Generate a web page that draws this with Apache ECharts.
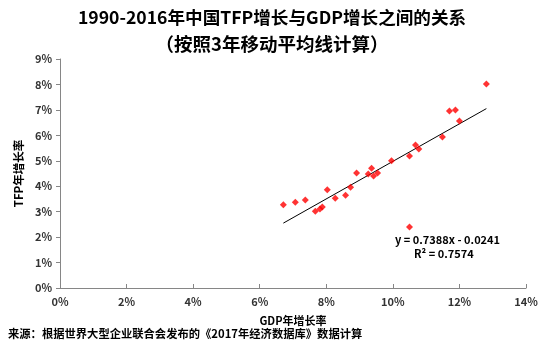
<!DOCTYPE html>
<html>
<head>
<meta charset="utf-8">
<script src="https://cdn.jsdelivr.net/npm/echarts@6/dist/echarts.min.js"></script>
<style>
html,body{margin:0;padding:0;background:#fff;}
#chart{width:544px;height:347px;}
</style>
</head>
<body>
<div id="chart"></div>
<script>
// GDP年增长率 (%) / TFP年增长率 (%), 3年移动平均
var gdpGrowth = [6.71, 7.07, 7.37, 7.67, 7.81, 7.88, 8.03, 8.27, 8.58, 8.73, 8.91, 9.26, 9.36,
	9.42, 9.54, 9.96, 10.50, 10.68, 10.78, 11.49, 11.70, 11.88, 12.00, 12.81, 10.50];
var tfpGrowth = [3.27, 3.37, 3.46, 3.02, 3.10, 3.18, 3.86, 3.53, 3.65, 3.96, 4.52, 4.48, 4.71,
	4.40, 4.52, 5.00, 5.19, 5.62, 5.46, 5.93, 6.96, 7.00, 6.56, 8.02, 2.40];
// 趋势线两端
var trendX = [6.71, 12.81];
var trendY = [2.55, 7.05];
var xTicks = [0, 14, 2];
var yTicks = [0, 9, 1];

var cjk = '"Noto Sans CJK SC", "Liberation Sans", sans-serif';
var points = [], trend = [];
for (var i = 0; i < gdpGrowth.length; i++) {
	points.push([gdpGrowth[i], tfpGrowth[i]]);
}
for (var i = 0; i < trendX.length; i++) {
	trend.push([trendX[i], trendY[i]]);
}

var chart = echarts.init(document.getElementById('chart'));
var option = {
	animation: false,
	title: [{
		text: '1990-2016年中国TFP增长与GDP增长之间的关系',
		left: 'center',
		top: 4,
		textStyle: {fontFamily: cjk, fontSize: 17.6, fontWeight: 'bold', color: '#000'}
	}, {
		text: '（按照3年移动平均线计算）',
		left: 'center',
		top: 30,
		textStyle: {fontFamily: cjk, fontSize: 18.5, fontWeight: 'bold', color: '#000'}
	}],
	grid: {left: 60, right: 18, top: 59, bottom: 59},
	xAxis: {
		type: 'value',
		min: xTicks[0], max: xTicks[1], interval: xTicks[2],
		name: 'GDP年增长率',
		nameLocation: 'middle',
		nameGap: 27,
		nameTextStyle: {fontFamily: cjk, fontSize: 11, fontWeight: 'bold', color: '#000'},
		axisLine: {lineStyle: {color: '#868686'}},
		axisTick: {inside: true, length: 4, lineStyle: {color: '#868686'}},
		axisLabel: {formatter: '{value}%', fontFamily: cjk, fontSize: 11, fontWeight: 'bold', color: '#333', margin: 8},
		splitLine: {show: false}
	},
	yAxis: {
		type: 'value',
		min: yTicks[0], max: yTicks[1], interval: yTicks[2],
		name: 'TFP年增长率',
		nameLocation: 'middle',
		nameGap: 30,
		nameTextStyle: {fontFamily: cjk, fontSize: 11.5, fontWeight: 'bold', color: '#000'},
		axisLine: {show: true, lineStyle: {color: '#868686'}},
		axisTick: {show: true, length: 4, lineStyle: {color: '#868686'}},
		axisLabel: {formatter: '{value}%', fontFamily: cjk, fontSize: 11, fontWeight: 'bold', color: '#333', margin: 8},
		splitLine: {show: false}
	},
	series: [{
		type: 'line',
		data: trend,
		symbol: 'none',
		lineStyle: {color: '#000', width: 1},
		silent: true,
		z: 1
	}, {
		type: 'scatter',
		data: points,
		symbol: 'diamond',
		symbolSize: 7,
		itemStyle: {color: '#ff0000'},
		z: 2
	}],
	graphic: [{
		type: 'text',
		left: 395,
		top: 234,
		style: {text: 'y = 0.7388x - 0.0241', font: 'bold 11px ' + cjk, fill: '#000'}
	}, {
		type: 'text',
		left: 414,
		top: 248,
		style: {text: 'R² = 0.7574', font: 'bold 11px ' + cjk, fill: '#000'}
	}, {
		type: 'text',
		left: 8,
		top: 328,
		style: {text: '来源：根据世界大型企业联合会发布的《2017年经济数据库》数据计算', font: 'bold 11.3px ' + cjk, fill: '#000'}
	}]
};
chart.setOption(option);
</script>
</body>
</html>
